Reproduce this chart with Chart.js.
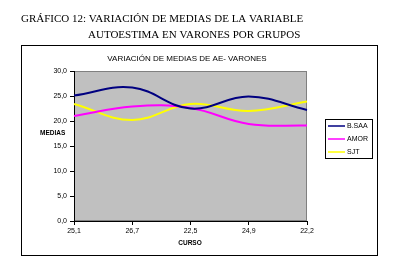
<!DOCTYPE html>
<html>
<head>
<meta charset="utf-8">
<script src="https://cdn.jsdelivr.net/npm/chart.js@4.4.1/dist/chart.umd.min.js"></script>
<style>
  html, body { margin: 0; padding: 0; background: #fff; }
  #wrap { position: relative; width: 394px; height: 269px; }
</style>
</head>
<body>
<div id="wrap"><canvas id="mediasChart" width="394" height="269"></canvas></div>
<script>
// categories (course averages) and series
const cursos = ['25,1', '26,7', '22,5', '24,9', '22,2'];
const bsaa = [25.1, 26.7, 22.5, 24.9, 22.2];
const amor = [21.0, 22.9, 22.6, 19.4, 19.1];
const sjt = [23.4, 20.2, 23.4, 22.0, 23.9];
const seriesNames = ['B.SAA', 'AMOR', 'SJT'];
const seriesColors = ['#000080', '#ff00ff', '#ffff00'];

const heading1 = 'GRÁFICO 12: VARIACIÓN DE MEDIAS DE LA VARIABLE';
const heading2 = 'AUTOESTIMA EN VARONES POR GRUPOS';
const chartTitle = 'VARIACIÓN DE MEDIAS DE AE- VARONES';

// draws the frame, plot background, titles and legend box
const decorations = {
    id: 'decorations',
    beforeDraw(chart) {
        const c = chart.ctx;
        const a = chart.chartArea;
        c.save();
        c.fillStyle = '#fff';
        c.fillRect(0, 0, chart.width, chart.height);

        // outer frame
        c.strokeStyle = '#000';
        c.lineWidth = 1;
        c.strokeRect(21.5, 45.5, 356, 210);

        // plot area
        c.fillStyle = '#c0c0c0';
        c.fillRect(a.left, a.top, a.right - a.left, a.bottom - a.top);
        c.strokeStyle = '#808080';
        c.strokeRect(a.left + 0.5, a.top + 0.5, a.right - a.left - 1, a.bottom - a.top - 1);

        // heading above the frame
        c.fillStyle = '#000';
        c.font = '11px "Liberation Serif", "Times New Roman", serif';
        c.textBaseline = 'alphabetic';
        c.textAlign = 'left';
        c.fillText(heading1, 21, 22);
        c.fillText(heading2, 88, 38);

        // chart title
        c.font = '8px "Liberation Sans", Arial, sans-serif';
        c.textAlign = 'center';
        c.textBaseline = 'middle';
        c.fillText(chartTitle, 187, 59);

        // axis titles
        c.font = 'bold 6.5px "Liberation Sans", Arial, sans-serif';
        c.textAlign = 'left';
        c.fillText('MEDIAS', 40, 133);
        c.textAlign = 'center';
        c.fillText('CURSO', 190, 243);

        // legend
        c.strokeStyle = '#000';
        c.lineWidth = 1;
        c.strokeRect(325.5, 119.5, 47, 39);
        c.font = '7px "Liberation Sans", Arial, sans-serif';
        c.textAlign = 'left';
        seriesNames.forEach((name, i) => {
            const y = 126 + i * 13;
            c.strokeStyle = seriesColors[i];
            c.lineWidth = 1.5;
            c.beginPath();
            c.moveTo(328, y);
            c.lineTo(345, y);
            c.stroke();
            c.fillStyle = '#000';
            c.fillText(name, 347, y + 0.5);
        });
        c.restore();
    }
};

const ctx = document.getElementById('mediasChart').getContext('2d');
const tickFont = { family: '"Liberation Sans", Arial, sans-serif', size: 7 };

new Chart(ctx, {
    type: 'line',
    data: {
        labels: cursos,
        datasets: [bsaa, amor, sjt].map((values, i) => ({
            label: seriesNames[i],
            data: values,
            borderColor: seriesColors[i],
            backgroundColor: seriesColors[i],
            borderWidth: 2,
            pointRadius: 0,
            tension: 0.4,
            fill: false
        }))
    },
    options: {
        responsive: false,
        animation: false,
        layout: { padding: { left: 0, top: 71, right: 87, bottom: 0 } },
        plugins: {
            legend: { display: false },
            title: { display: false },
            tooltip: { enabled: false }
        },
        scales: {
            x: {
                offset: false,
                grid: { display: true, drawOnChartArea: false, drawTicks: true, tickLength: 4, color: '#000' },
                border: { color: '#000', width: 1 },
                ticks: { color: '#000', font: tickFont, padding: 2, maxRotation: 0, autoSkip: false },
                afterFit(scale) { scale.height = 48; }
            },
            y: {
                min: 0,
                max: 30,
                grid: { display: true, drawOnChartArea: false, drawTicks: true, tickLength: 4, color: '#000' },
                border: { color: '#000', width: 1 },
                ticks: {
                    stepSize: 5,
                    color: '#000',
                    font: tickFont,
                    padding: 3,
                    callback: v => v.toFixed(1).replace('.', ',')
                },
                afterFit(scale) { scale.width = 74; }
            }
        }
    },
    plugins: [decorations]
});
</script>
</body>
</html>
